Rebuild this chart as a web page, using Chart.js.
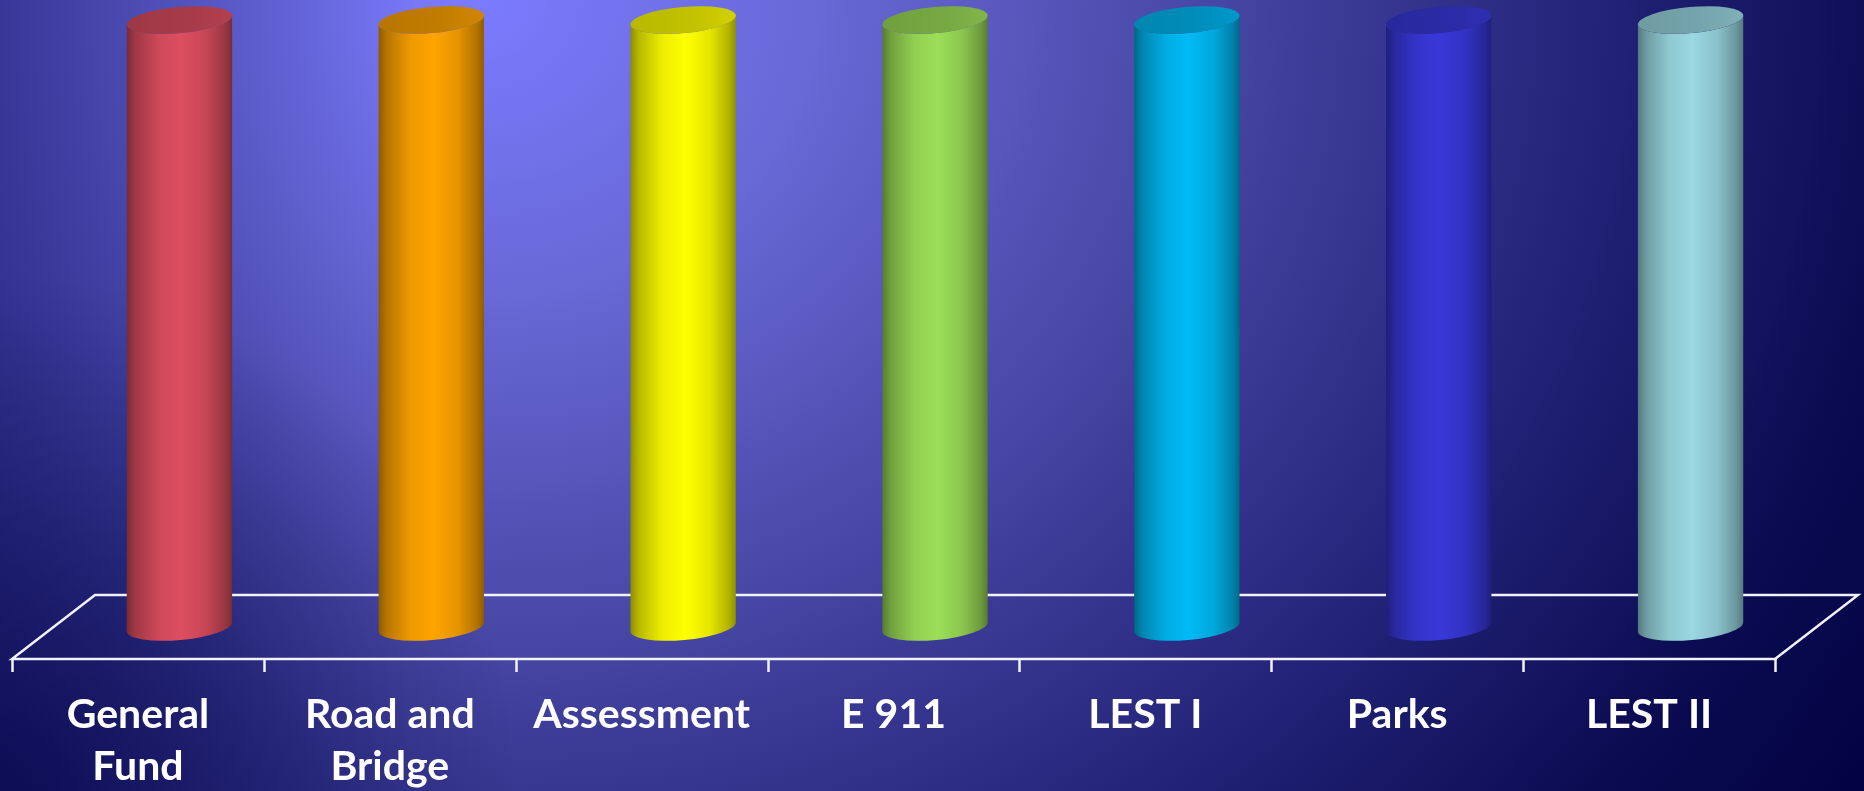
<!DOCTYPE html>
<html>
<head>
<meta charset="utf-8">
<title>Funds</title>
<script src="https://cdn.jsdelivr.net/npm/chart.js@4.4.1/dist/chart.umd.min.js"></script>
<style>
  html, body { margin: 0; padding: 0; }
  #wrap {
    width: 1864px;
    height: 791px;
    position: relative;
    background:
      radial-gradient(circle 520px at 0px 791px, rgba(0, 0, 60, 0.6), rgba(0, 0, 60, 0)),
      linear-gradient(to right, rgba(20, 20, 110, 0.5) 0%, rgba(20, 20, 110, 0) 22%),
      radial-gradient(ellipse 1700px 1500px at 480px 0px,
        #7b7bff 0%, #6868d6 20%, #4848a6 42%, #24247a 65%, #0a0a50 85%, #000040 100%);
  }
  canvas { display: block; }
</style>
</head>
<body>
<div id="wrap"><canvas id="fundChart" width="1864" height="791"></canvas></div>
<script>
// categories (multi-line labels) and values
const fundNames = [['General', 'Fund'], ['Road and', 'Bridge'], ['Assessment'], ['E 911'], ['LEST I'], ['Parks'], ['LEST II']];
const fundValues = [100, 100, 100, 100, 100, 100, 100];

// cylinder colours (highlight tone of each body)
const fundColors = ['#dc4e60', '#ffa400', '#ffff00', '#9cde58', '#00baf5', '#3838da', '#9ad8e2'];

// fake 3D floor depth
const DEPTH_X = 83;
const DEPTH_Y = -64;
const CAP_RY = 13;
const TILT = -0.09;

function shade(hex, f) {
  const n = parseInt(hex.slice(1), 16);
  const r = Math.round(((n >> 16) & 255) * f);
  const g = Math.round(((n >> 8) & 255) * f);
  const b = Math.round((n & 255) * f);
  return `rgb(${r},${g},${b})`;
}

function drawFloor(ctx, xs, yFront) {
  const l = xs.left, r = xs.right;
  ctx.save();
  ctx.strokeStyle = '#f2f2fa';
  ctx.lineWidth = 2.5;
  ctx.lineJoin = 'miter';
  ctx.beginPath();
  ctx.moveTo(l, yFront);
  ctx.lineTo(r, yFront);
  ctx.lineTo(r + DEPTH_X, yFront + DEPTH_Y);
  ctx.lineTo(l + DEPTH_X, yFront + DEPTH_Y);
  ctx.closePath();
  ctx.stroke();
  // tick marks between categories
  const n = xs.getLabels().length;
  const step = (r - l) / n;
  ctx.beginPath();
  for (let i = 0; i <= n; i++) {
    const px = Math.round(l + i * step) + 0.5;
    ctx.moveTo(px, yFront);
    ctx.lineTo(px, yFront + 13);
  }
  ctx.stroke();
  ctx.restore();
}

function drawCylinder(ctx, bar, color) {
  const cx = bar.x + DEPTH_X / 2;
  const top = bar.y + DEPTH_Y / 2;
  const bottom = bar.base + DEPTH_Y / 2;
  const a = bar.width / 2;
  const b = CAP_RY;
  const ox = a * Math.cos(TILT), oy = a * Math.sin(TILT);

  const grad = ctx.createLinearGradient(cx - a, 0, cx + a, 0);
  grad.addColorStop(0, shade(color, 0.55));
  grad.addColorStop(0.08, shade(color, 0.72));
  grad.addColorStop(0.3, shade(color, 0.93));
  grad.addColorStop(0.52, color);
  grad.addColorStop(0.75, shade(color, 0.9));
  grad.addColorStop(0.93, shade(color, 0.7));
  grad.addColorStop(1, shade(color, 0.56));

  ctx.save();
  ctx.beginPath();
  ctx.moveTo(cx - ox, top - oy);
  ctx.lineTo(cx - ox, bottom - oy);
  ctx.ellipse(cx, bottom, a, b, TILT, Math.PI, 0, true);
  ctx.lineTo(cx + ox, top + oy);
  ctx.ellipse(cx, top, a, b, TILT, 0, Math.PI, false);
  ctx.closePath();
  ctx.fillStyle = grad;
  ctx.fill();

  // top cap
  const capGrad = ctx.createLinearGradient(cx - a, 0, cx + a, 0);
  capGrad.addColorStop(0, shade(color, 0.72));
  capGrad.addColorStop(0.6, shade(color, 0.76));
  capGrad.addColorStop(1, shade(color, 0.82));
  ctx.beginPath();
  ctx.ellipse(cx, top, a, b, TILT, 0, Math.PI * 2);
  ctx.fillStyle = capGrad;
  ctx.fill();
  ctx.restore();
}

const cylinderPlugin = {
  id: 'cylinders',
  beforeDatasetsDraw(chart) {
    const { ctx, chartArea } = chart;
    const xs = chart.scales.x;
    drawFloor(ctx, xs, chartArea.bottom);
    const meta = chart.getDatasetMeta(0);
    meta.data.forEach((bar, i) => drawCylinder(ctx, bar, fundColors[i]));
    return false;
  },
  afterDraw(chart) {
    const { ctx, chartArea } = chart;
    const xs = chart.scales.x;
    ctx.save();
    ctx.fillStyle = '#ffffff';
    ctx.font = '700 41px Lato';
    ctx.textAlign = 'center';
    ctx.textBaseline = 'alphabetic';
    xs.getLabels().forEach((lbl, i) => {
      const px = xs.getPixelForTick(i);
      const lines = Array.isArray(lbl) ? lbl : [lbl];
      lines.forEach((t, j) => ctx.fillText(t, px, chartArea.bottom + 69 + j * 52));
    });
    ctx.restore();
  }
};

new Chart(document.getElementById('fundChart'), {
  type: 'bar',
  data: {
    labels: fundNames,
    datasets: [{
      data: fundValues,
      backgroundColor: fundColors,
      borderWidth: 0,
      categoryPercentage: 1,
      barPercentage: 0.42
    }]
  },
  options: {
    responsive: false,
    animation: false,
    devicePixelRatio: 1,
    layout: { padding: { left: 12, right: 89, top: 52, bottom: 132 } },
    plugins: { legend: { display: false }, tooltip: { enabled: false } },
    scales: {
      x: { display: false },
      y: { display: false, min: 0, max: 100 }
    }
  },
  plugins: [cylinderPlugin]
});
</script>
</body>
</html>
